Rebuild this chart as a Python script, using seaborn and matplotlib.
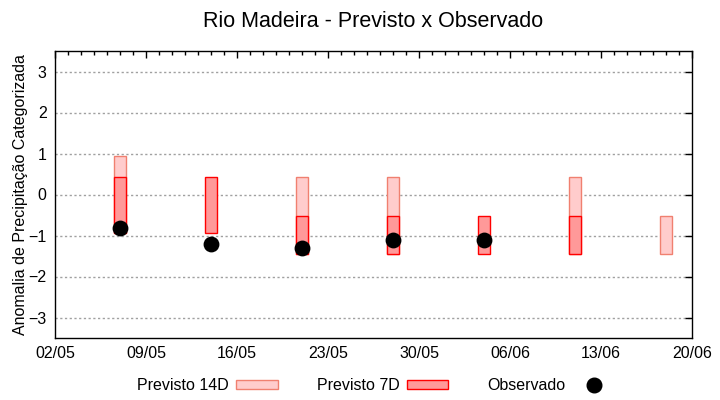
import numpy as np
import pandas as pd
import seaborn as sns
import matplotlib.pyplot as plt
import matplotlib.dates as mdates
from matplotlib.patches import Patch
from matplotlib.lines import Line2D

# weekly forecast windows (category bounds) and observed anomaly
weeks = ["2023-05-07", "2023-05-14", "2023-05-21", "2023-05-28",
         "2023-06-04", "2023-06-11", "2023-06-18"]
p14_low = [-0.95, np.nan, -1.45, -1.45, np.nan, -1.45, -1.45]
p14_high = [0.95, np.nan, 0.43, 0.43, np.nan, 0.43, -0.52]
p7_low = [-0.95, -0.95, -1.45, -1.45, -1.45, -1.45, np.nan]
p7_high = [0.43, 0.43, -0.52, -0.52, -0.52, -0.52, np.nan]
obs = [-0.81, -1.2, -1.3, -1.1, -1.1, np.nan, np.nan]

df = pd.DataFrame({
    "data": pd.to_datetime(weeks),
    "p14_low": p14_low, "p14_high": p14_high,
    "p7_low": p7_low, "p7_high": p7_high,
    "obs": obs,
})

sns.set_theme(style="white")
plt.rcParams['font.family'] = ['Liberation Sans', 'DejaVu Sans']
plt.rcParams['text.color'] = 'black'
plt.rcParams['axes.labelcolor'] = 'black'

fig = plt.figure(figsize=(7.2, 4), dpi=100)
ax = fig.add_axes([0.0764, 0.155, 0.8847, 0.7175])

x = mdates.date2num(df["data"])
ax.bar(x, df["p14_high"] - df["p14_low"], bottom=df["p14_low"], width=0.95,
       color="#ffcccc", edgecolor="#f08070", linewidth=1.0, zorder=2)
ax.bar(x, df["p7_high"] - df["p7_low"], bottom=df["p7_low"], width=0.95,
       color="#ff9999", edgecolor="#ff0000", linewidth=1.0, zorder=3)
sns.scatterplot(data=df, x="data", y="obs", ax=ax, color="black", s=130,
                edgecolor="black", linewidth=0, zorder=4, legend=False)

ax.set_xlim(pd.Timestamp("2023-05-02"), pd.Timestamp("2023-06-20"))
ax.set_ylim(-3.5, 3.5)
ticks = pd.date_range("2023-05-02", "2023-06-20", freq="7D")
ax.set_xticks(ticks)
ax.xaxis.set_major_formatter(mdates.DateFormatter("%d/%m"))
ax.xaxis.set_minor_locator(mdates.DayLocator())
ax.set_yticks([-3, -2, -1, 0, 1, 2, 3])

ax.tick_params(which="both", direction="in", top=True, right=True,
               colors="black", labelsize=11.5, width=1)
ax.tick_params(which="major", length=5, pad=6)
ax.tick_params(which="minor", length=3)
ax.tick_params(axis="y", which="minor", left=False, right=False)
for s in ax.spines.values():
    s.set_color("black")
    s.set_linewidth(1)

ax.yaxis.grid(True, color="#a0a0a0", linestyle=(0, (1.6, 1.8)), linewidth=1)
ax.set_axisbelow(True)

ax.set_xlabel("")
ax.set_ylabel("Anomalia de Precipitação Categorizada", fontsize=11.5, labelpad=0)
ax.set_title("Rio Madeira - Previsto x Observado", fontsize=15.5, pad=17)

handles = [
    Patch(facecolor="#ffcccc", edgecolor="#f08070", linewidth=1.0),
    Patch(facecolor="#ff9999", edgecolor="#ff0000", linewidth=1.0),
    Line2D([], [], marker="o", color="black", linestyle="none", markersize=10.5),
]
fig.legend(handles, ["Previsto 14D", "Previsto 7D", "Observado"],
           loc="center", bbox_to_anchor=(0.522, 0.035), ncol=3, frameon=False,
           markerfirst=False, handlelength=2.6, handleheight=0.5,
           columnspacing=2.45, handletextpad=0.45, fontsize=11.5)

fig.savefig("out.png", dpi=100)
